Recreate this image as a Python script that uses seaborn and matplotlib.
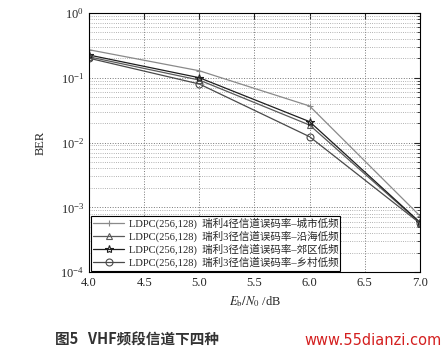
import matplotlib
matplotlib.use("Agg")
import matplotlib.pyplot as plt
import seaborn as sns
import pandas as pd
import numpy as np
from matplotlib.ticker import LogLocator, NullFormatter, MultipleLocator

snr = [4.0, 5.0, 6.0, 7.0]
ber_city = [0.27, 0.128, 0.0366, 7.4e-4]
ber_coast = [0.21, 0.092, 0.0186, 5.8e-4]
ber_suburb = [0.224, 0.100, 0.021, 5.9e-4]
ber_rural = [0.20, 0.080, 0.0123, 5.7e-4]

labels = [
    "LDPC(256,128)  瑞利4径信道误码率–城市低频",
    "LDPC(256,128)  瑞利3径信道误码率–沿海低频",
    "LDPC(256,128)  瑞利3径信道误码率–郊区低频",
    "LDPC(256,128)  瑞利3径信道误码率–乡村低频",
]
xticks = [4.0, 4.5, 5.0, 5.5, 6.0, 6.5, 7.0]

sns.set_style("white")
plt.rcParams['font.family'] = ['Liberation Serif', 'Noto Sans CJK SC', 'DejaVu Sans']
plt.rcParams['mathtext.fontset'] = 'stix'

fig = plt.figure(figsize=(4.41, 3.59), dpi=100)
ax = fig.add_axes([0.202, 0.242, 0.750, 0.722])

series = [ber_city, ber_coast, ber_suburb, ber_rural]
colors = ["#8a8a8a", "#5a5a5a", "#1e1e1e", "#4a4a4a"]
markers = ["+", "^", "*", "o"]
msizes = [4, 5, 6, 5]
for vals, lab, c, m, ms in zip(series, labels, colors, markers, msizes):
    df = pd.DataFrame({"snr": snr, "ber": vals})
    sns.lineplot(data=df, x="snr", y="ber", ax=ax, color=c, lw=0.9,
                 marker=m, markersize=ms, markerfacecolor="none",
                 markeredgecolor=c, markeredgewidth=0.8, label=lab)

ax.set_yscale("log")
ax.set_xlim(4.0, 7.0)
ax.set_ylim(1e-4, 1.0)
ax.set_xticks(xticks)
ax.set_xticklabels([f"{v:.1f}" for v in xticks])
ax.yaxis.set_major_locator(LogLocator(base=10, numticks=10))
ax.yaxis.set_minor_locator(LogLocator(base=10, subs=np.arange(2, 10), numticks=50))
ax.yaxis.set_minor_formatter(NullFormatter())
ax.grid(True, which="major", linestyle=":", color="#777777", lw=0.7)
ax.grid(True, which="minor", axis="y", linestyle=":", color="#999999", lw=0.6)
ax.tick_params(which="both", direction="in", top=True, right=True, labelsize=9)
ax.tick_params(which="major", length=4)
ax.tick_params(which="minor", length=2)
for s in ax.spines.values():
    s.set_color("black")
    s.set_linewidth(0.8)

ax.set_xlabel("$E_{\\mathrm{b}}/N_0$ /dB", fontsize=9, labelpad=4)
ax.set_ylabel("BER", fontsize=9, labelpad=10)

leg = ax.legend(loc="lower left", fontsize=7.6, frameon=True, fancybox=False,
                borderpad=0.2, labelspacing=0.15, handlelength=3.0,
                handletextpad=0.4, borderaxespad=0.15)
leg.get_frame().set_edgecolor("black")
leg.get_frame().set_linewidth(0.8)
leg.get_frame().set_alpha(1)

fig.text(0.125, 0.04, "图5   VHF频段信道下四种", fontsize=10.5, fontweight="bold",
         family=['Noto Sans CJK SC', 'DejaVu Sans'], color="#333333")
fig.text(0.69, 0.04, "www.55dianzi.com", fontsize=10.5, color="#d42020",
         family=['DejaVu Sans'])

fig.savefig("out.png", dpi=100)
